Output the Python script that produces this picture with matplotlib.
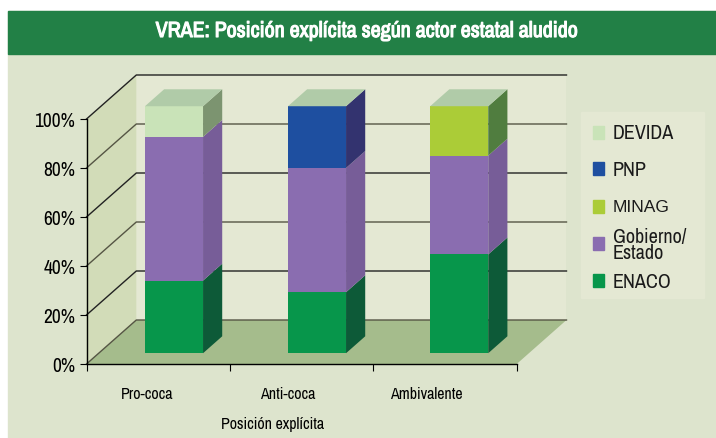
import numpy as np
import matplotlib
matplotlib.use("Agg")
import matplotlib.pyplot as plt
import matplotlib.patheffects as pe
from matplotlib.patches import Polygon, Rectangle

W, H = 716, 439
plt.rcParams["font.family"] = ["Archivo Narrow", "Liberation Sans", "DejaVu Sans"]

# datos
categorias = ["Pro-coca", "Anti-coca", "Ambivalente"]
enaco = [29.4, 24.7, 40.0]
gobierno = [58.2, 50.3, 40.0]
minag = [0, 0, 20.0]
pnp = [0, 25.0, 0]
devida = [12.4, 0, 0]
series = ["ENACO", "Gobierno/\nEstado", "MINAG", "PNP", "DEVIDA"]
pct_ticks = [0, 20, 40, 60, 80, 100]

col_front = ["#07964b", "#8a6db0", "#abcc37", "#1e4fa0", "#c9e3b8"]
col_side = ["#0d5a38", "#775d98", "#507d3f", "#33336f", "#7c9470"]
col_top = "#b0cba8"

fig = plt.figure(figsize=(W / 100, H / 100), dpi=100, facecolor="white")
# fondo y cabecera
fig.patches.append(Rectangle((8 / W, -0.01), 708 / W, 1.01 - 12 / H, transform=fig.transFigure, color="#dde4cd", zorder=-3))
fig.patches.append(Rectangle((8 / W, 1 - 55 / H), 708 / W, 43 / H, transform=fig.transFigure, color="#228046", zorder=-2))
titulo = fig.text(367 / W, 1 - 32 / H, "VRAE: Posición explícita según actor estatal aludido", color="white",
                  fontsize=15.8, ha="center", va="center")
# la fuente angosta no trae negrita
titulo.set_path_effects([pe.withStroke(linewidth=0.8, foreground="white")])

# eje frontal del grafico
ax = fig.add_axes([86.5 / W, 1 - 365 / H, 430.2 / W, 245 / H])
ax.set_xlim(0, 3)
ax.set_ylim(0, 100)
ax.patch.set_visible(False)

# profundidad en unidades de datos
dx = 49.8 / 143.4
dy = 44 / 2.45


def cara(puntos, color, z=1):
    pts = [(x + d * dx, y + d * dy) for x, y, d in puntos]
    ax.add_patch(Polygon(pts, closed=True, fc=color, ec="none", lw=0, clip_on=False, zorder=z))


# paredes y piso
cara([(0, 0, 1), (3, 0, 1), (3, 100, 1), (0, 100, 1)], "#e4e8d3", 0)
cara([(0, 0, 0), (0, 0, 1), (0, 100, 1), (0, 100, 0)], "#d2dcb8", 0)
cara([(0, 0, 0), (3, 0, 0), (3, 0, 1), (0, 0, 1)], "#a5bc8c", 0.5)
for p in pct_ticks:
    ax.plot([0, dx, 3 + dx], [p, p + dy, p + dy], color="#222222" if p % 40 else "#555544",
            lw=1.0, clip_on=False, zorder=0.8)

# barras
ancho = 0.405
d0, prof = 0.245, 0.385
esc = 247 / 245
centros = np.array([174, 317, 459.2])
x0 = (centros - 86.5) / 143.4
pilas = [enaco, gobierno, minag, pnp, devida]
for i in range(3):
    base = 0.0
    izq = x0[i] - ancho / 2
    der = x0[i] + ancho / 2
    for s, vals in enumerate(pilas):
        v = vals[i] * esc
        if v == 0:
            continue
        # la base del frente queda sobre el piso, por eso el desplazamiento d0
        ax.bar(x0[i], v, ancho, bottom=base + d0 * dy, color=col_front[s], zorder=3 + i, clip_on=False)
        cara([(der, base + d0 * dy, 0), (der, base + d0 * dy, prof),
              (der, base + v + d0 * dy, prof), (der, base + v + d0 * dy, 0)], col_side[s], 3 + i)
        base += v
    yt = base + d0 * dy
    cara([(izq, yt, 0), (der, yt, 0), (der, yt, prof), (izq, yt, prof)], col_top, 3 + i)

# ejes
for lado in ["top", "right"]:
    ax.spines[lado].set_visible(False)
for lado in ["left", "bottom"]:
    ax.spines[lado].set_linewidth(1.0)
    ax.spines[lado].set_zorder(2)
ax.set_yticks(pct_ticks)
ax.set_yticklabels([f"{p}%" for p in pct_ticks], fontsize=14)
ax.set_xticks([0, 1, 2, 3])
ax.set_xticklabels([])
ax.tick_params(axis="y", length=5, pad=3)
ax.tick_params(axis="x", length=5)
cat_x = [147, 287.5, 426]
for xp, c in zip(cat_x, categorias):
    ax.text((xp - 86.5) / 143.4, -12, c, fontsize=11.5, ha="center", va="center")
fig.text(273 / W, 1 - 425 / H, "Posición explícita", fontsize=11.5, ha="center", va="center")

# leyenda
fig.patches.append(Rectangle((581 / W, 1 - 299 / H), 123 / W, 186 / H, transform=fig.transFigure, color="#e4e8d3", zorder=-1))
ley_y = [133, 169, 207, 244.5, 281]
ley_s = [4, 3, 2, 1, 0]
for y, s in zip(ley_y, ley_s):
    fig.patches.append(Rectangle((593 / W, 1 - (y + 6.5) / H), 11 / W, 13 / H, transform=fig.transFigure,
                                 color=col_front[s], zorder=-0.5))
    t = fig.text(613 / W, 1 - (y + 1) / H, series[s], fontsize=14.5, ha="left", va="center",
                 linespacing=0.75, color="#1a1a1a")
    if s == 2:
        # MINAG va mas ancho en el original
        t.set_fontfamily(["Liberation Sans"])
        t.set_fontsize(12.5)

fig.savefig("out.png", dpi=100)
